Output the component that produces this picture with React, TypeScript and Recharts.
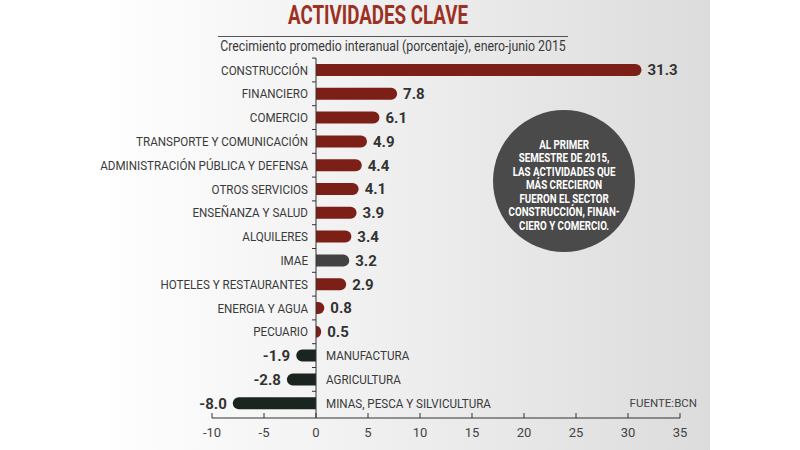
import { BarChart, Bar, XAxis, YAxis, ReferenceLine, LabelList, Cell } from "recharts";

const categories = [
  "CONSTRUCCIÓN",
  "FINANCIERO",
  "COMERCIO",
  "TRANSPORTE Y COMUNICACIÓN",
  "ADMINISTRACIÓN PÚBLICA Y DEFENSA",
  "OTROS SERVICIOS",
  "ENSEÑANZA Y SALUD",
  "ALQUILERES",
  "IMAE",
  "HOTELES Y RESTAURANTES",
  "ENERGIA Y AGUA",
  "PECUARIO",
  "MANUFACTURA",
  "AGRICULTURA",
  "MINAS, PESCA Y SILVICULTURA",
];
const growth = [31.3, 7.8, 6.1, 4.9, 4.4, 4.1, 3.9, 3.4, 3.2, 2.9, 0.8, 0.5, -1.9, -2.8, -8.0];
const xTicks = [-10, -5, 0, 5, 10, 15, 20, 25, 30, 35];
const noteLines = [
  "AL PRIMER",
  "SEMESTRE DE 2015,",
  "LAS ACTIVIDADES QUE",
  "MÁS CRECIERON",
  "FUERON EL SECTOR",
  "CONSTRUCCIÓN, FINAN-",
  "CIERO Y COMERCIO.",
];

const FONT = "Roboto, 'Noto Sans', sans-serif";
const RED = "#7c1f16";
const GRAY = "#424242";
const DARK = "#1b2520";
const HALF_BAND = 11.9;
const NARROW = 0.93;

const data = categories.map((name, i) => ({ name, growth: growth[i] }));

const barColor = (name: string, v: number) => (v < 0 ? DARK : name === "IMAE" ? GRAY : RED);

function RoundBar(props: any) {
  const { x, y, width, height, fill, payload } = props;
  const left = Math.min(x, x + width);
  const w = Math.abs(width);
  const ry = height / 2;
  const r = Math.min(ry, w);
  let d;
  if (payload.growth >= 0) {
    d = `M${left},${y} L${left + w - r},${y} A${r},${ry} 0 0 1 ${left + w - r},${y + height} L${left},${y + height} Z`;
  } else {
    d = `M${left + w},${y} L${left + r},${y} A${r},${ry} 0 0 0 ${left + r},${y + height} L${left + w},${y + height} Z`;
  }
  return <path d={d} fill={fill} />;
}

function BarLabels(props: any) {
  const vb = props.viewBox ?? props;
  const { x, y, width, height } = vb;
  const v = Number(props.value);
  const i = props.index;
  const lo = Math.min(x, x + width);
  const hi = Math.max(x, x + width);
  const zero = v >= 0 ? lo : hi;
  const cy = y + height / 2;
  const pos = v >= 0;
  const nameX = pos ? zero - 8 : zero + 10;
  return (
    <g>
      <line x1={zero - 4} x2={zero} y1={cy - HALF_BAND} y2={cy - HALF_BAND} stroke="#333" strokeWidth={1} />
      <g transform={`translate(${nameX},${cy}) scale(${NARROW},1)`}>
        <text
          x={0}
          y={0}
          dy="0.36em"
          textAnchor={pos ? "end" : "start"}
          fontFamily={FONT}
          fontSize={12.5}
          fill="#3a3a3a"
        >
          {categories[i]}
        </text>
      </g>
      <text
        x={pos ? hi + 6 : lo - 6}
        y={cy}
        dy="0.36em"
        textAnchor={pos ? "start" : "end"}
        fontFamily={FONT}
        fontSize={15}
        fontWeight="bold"
        fill="#333"
      >
        {v.toFixed(1)}
      </text>
    </g>
  );
}

function XTick(props: any) {
  const { x, y, payload } = props;
  return (
    <g>
      <line x1={x} x2={x} y1={y - 5} y2={y} stroke="#333" strokeWidth={1} />
      <text x={x} y={y + 19} textAnchor="middle" fontFamily={FONT} fontSize={13} fill="#444">
        {payload.value}
      </text>
    </g>
  );
}

export default function App() {
  return (
    <div style={{ position: "absolute", left: 0, top: 0, width: 800, height: 450, background: "#fff", overflow: "hidden" }}>
      <div
        style={{
          position: "absolute",
          left: 110,
          top: 0,
          width: 600,
          height: 450,
          background: "linear-gradient(to right, #fefefe 0%, #f1f1f1 40%, #dcdcdc 100%)",
        }}
      />
      <div style={{ position: "absolute", left: 0, top: 0 }}>
        <BarChart
          width={800}
          height={450}
          layout="vertical"
          data={data}
          margin={{ top: 58, right: 120, bottom: 0, left: 212 }}
          barSize={12}
        >
          <XAxis
            type="number"
            domain={[-10, 35]}
            ticks={xTicks}
            axisLine={{ stroke: "#333" }}
            tickLine={false}
            tickSize={0}
            tickMargin={0}
            tick={<XTick />}
            height={32}
            interval={0}
          />
          <YAxis type="category" dataKey="name" hide width={0} padding={{ top: 0, bottom: 3 }} />
          <Bar dataKey="growth" isAnimationActive={false} shape={<RoundBar />}>
            {data.map((d, i) => (
              <Cell key={`c-${i}`} fill={barColor(d.name, d.growth)} />
            ))}
            <LabelList dataKey="growth" content={<BarLabels />} />
          </Bar>
          <ReferenceLine x={0} stroke="#333" strokeWidth={1} />
        </BarChart>
      </div>
      <div
        style={{
          position: "absolute",
          left: 178,
          width: 400,
          top: 1,
          textAlign: "center",
          fontFamily: FONT,
          fontWeight: "bold",
          fontSize: 25,
          lineHeight: "30px",
          whiteSpace: "nowrap",
          color: "#9c3023",
          transform: "scaleX(0.75)",
          transformOrigin: "center",
        }}
      >
        ACTIVIDADES CLAVE
      </div>
      <div style={{ position: "absolute", left: 218, width: 350, top: 36, height: 1, background: "#555" }} />
      <div
        style={{
          position: "absolute",
          left: 143,
          width: 500,
          top: 38,
          textAlign: "center",
          fontFamily: FONT,
          fontSize: 14,
          lineHeight: "16px",
          whiteSpace: "nowrap",
          color: "#3a3a3a",
          transform: "scaleX(0.88)",
          transformOrigin: "center",
        }}
      >
        Crecimiento promedio interanual (porcentaje), enero-junio 2015
      </div>
      <div
        style={{
          position: "absolute",
          left: 493,
          top: 110,
          width: 142,
          height: 142,
          borderRadius: "50%",
          background: "#4a4a4a",
          display: "flex",
          justifyContent: "center",
          alignItems: "center",
          paddingTop: 8,
          boxSizing: "border-box",
        }}
      >
        <div
          style={{
            fontFamily: FONT,
            fontWeight: "bold",
            fontSize: 13,
            lineHeight: "13.5px",
            color: "#fff",
            textAlign: "center",
            whiteSpace: "nowrap",
            transform: "scaleX(0.75)",
          }}
        >
          {noteLines.map((l) => (
            <div key={l}>{l}</div>
          ))}
        </div>
      </div>
      <div
        style={{
          position: "absolute",
          right: 103,
          top: 396,
          fontFamily: FONT,
          fontSize: 11.5,
          color: "#444",
        }}
      >
        FUENTE:BCN
      </div>
    </div>
  );
}
